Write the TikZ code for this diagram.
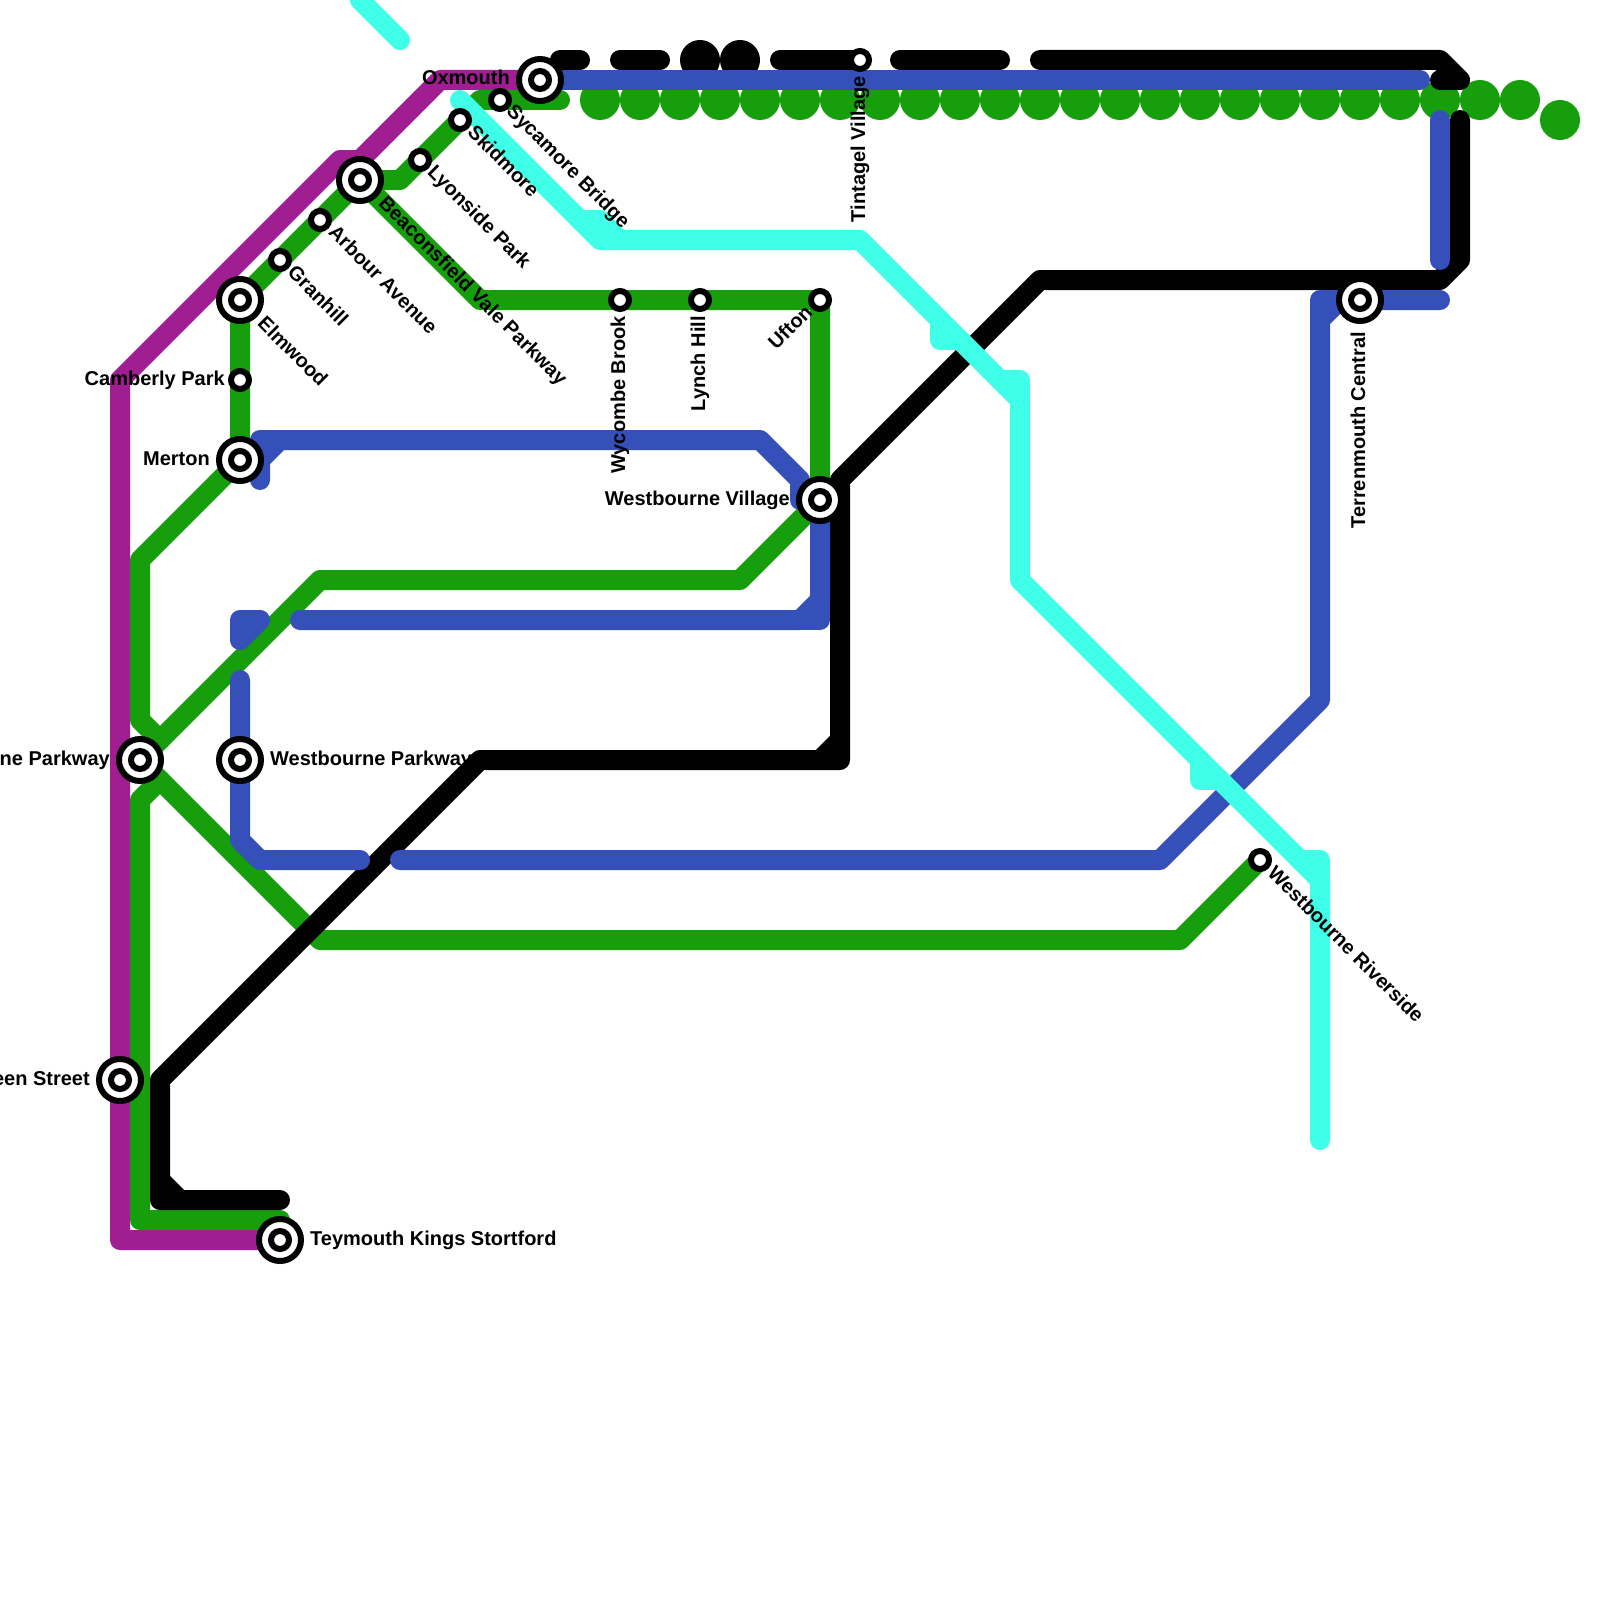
\documentclass[tikz,border=0pt]{standalone}
\usepackage{fontspec}
\setmainfont{Liberation Sans}
\usetikzlibrary{positioning}
\pgfdeclarelayer{lines}
\pgfsetlayers{lines,main}
\definecolor{routepurple}{RGB}{161,30,146}
\definecolor{routegreen}{RGB}{23,158,12}
\definecolor{routeblue}{RGB}{53,80,184}
\definecolor{routecyan}{RGB}{64,255,232}
\tikzset{
  route/.style={line width=20pt,line cap=round,line join=round},
  halt/.style={circle,draw=black,fill=white,line width=6pt,minimum size=18pt,inner sep=0pt},
  interchange/.style={circle,draw=black,fill=white,line width=6pt,minimum size=42pt,inner sep=0pt,
    path picture={\draw[line width=6pt] (path picture bounding box.center) circle (9pt);}},
  lbl/.style={font=\bfseries\fontsize{20}{20}\selectfont,inner sep=0pt,text height=14pt,text depth=4pt},
  lbldown/.style={lbl,rotate=-45,anchor=west},
  lblup/.style={lbl,rotate=90,anchor=east},
}
\begin{document}
\begin{tikzpicture}[x=1pt,y=-1pt]
  \useasboundingbox (0,0) rectangle (1600,1600);
  % stations
  \node[interchange] (oxmouth) at (540,80) {};
  \node[halt] (sycamore) at (500,100) {};
  \node[halt] (skidmore) at (460,120) {};
  \node[halt] (lyonside) at (420,160) {};
  \node[interchange] (beaconsfield) at (360,180) {};
  \node[halt] (arbour) at (320,220) {};
  \node[halt] (granhill) at (280,260) {};
  \node[interchange] (elmwood) at (240,300) {};
  \node[halt] (camberly) at (240,380) {};
  \node[interchange] (merton) at (240,460) {};
  \node[halt] (wycombe) at (620,300) {};
  \node[halt] (lynch) at (700,300) {};
  \node[halt] (ufton) at (820,300) {};
  \node[interchange] (wvillage) at (820,500) {};
  \node[halt] (tintagel) at (860,60) {};
  \node[interchange] (terrenmouth) at (1360,300) {};
  \node[halt] (wriverside) at (1260,860) {};
  \node[interchange] (wparkway) at (240,760) {};
  \node[interchange] (neparkway) at (140,760) {};
  \node[interchange] (eenstreet) at (120,1080) {};
  \node[interchange] (teymouth) at (280,1240) {};
  % labels
  \node[lbl,left=6pt of oxmouth] (oxmouthtxt) {Oxmouth};
  \node[lbl,left=3pt of camberly] (camberlytxt) {Camberly Park};
  \node[lbl,left=6pt of merton] (mertontxt) {Merton};
  \node[lbl,left=6pt of wvillage] (wvillagetxt) {Westbourne Village};
  \node[lbl,right=6pt of wparkway] (wparkwaytxt) {Westbourne Parkway};
  \node[lbl,left=6pt of neparkway] (neparkwaytxt) {ne Parkway};
  \node[lbl,left=6pt of eenstreet] (eenstreettxt) {een Street};
  \node[lbl,right=6pt of teymouth] (teymouthtxt) {Teymouth Kings Stortford};
  \node[lbldown] (sycamoretxt) at (509,109) {Sycamore Bridge};
  \node[lbldown] (skidmoretxt) at (470,130) {Skidmore};
  \node[lbldown] (lyonsidetxt) at (430,170) {Lyonside Park};
  \node[lbldown] (beaconsfieldtxt) at (381,201) {Beaconsfield Vale Parkway};
  \node[lbldown] (arbourtxt) at (331,230) {Arbour Avenue};
  \node[lbldown] (granhilltxt) at (290,270) {Granhill};
  \node[lbldown] (elmwoodtxt) at (260,321) {Elmwood};
  \node[lbldown] (wriversidetxt) at (1270,871) {Westbourne Riverside};
  \node[lblup] (tintageltxt) at (860,76) {Tintagel Village};
  \node[lblup] (wycombetxt) at (620,316) {Wycombe Brook};
  \node[lblup] (lynchtxt) at (700,316) {Lynch Hill};
  \node[lblup] (terrenmouthtxt) at (1360,332) {Terrenmouth Central};
  \node[lbl,rotate=45,anchor=east] (uftontxt) at (810,310) {Ufton};
  % free line ends
  \coordinate (blueend) at (1420,80);
  \coordinate (bluesidetop) at (1440,120);
  \coordinate (bluesidebot) at (1440,260);
  \coordinate (bluetail) at (1440,300);
  \coordinate (bluelonga) at (400,860);
  \coordinate (bluelongb) at (360,860);
  \coordinate (blueparktop) at (240,680);
  \coordinate (bluemid) at (300,620);
  \coordinate (bluemerton) at (260,480);
  \coordinate (blackend) at (1040,60);
  \coordinate (blacksidetop) at (1460,120);
  \coordinate (blackfoot) at (280,1200);
  \coordinate (cyantop) at (460,100);
  \coordinate (cyanfoot) at (1320,1140);
  \coordinate (greenfoot) at (280,1220);
  \coordinate (greenspur) at (560,100);
  \begin{pgfonlayer}{lines}
    \draw[route,routepurple] (teymouth.center) -- (120,1240) -- (eenstreet.center) -- (120,380) -- (340,160)
      -- (360,160) -- (440,80) -- (oxmouth.center);
    % green
    \foreach \dotx in {600,640,...,1520}
      \fill[routegreen] (\dotx,100) circle (20pt);
    \fill[routegreen] (1560,120) circle (20pt);
    \draw[route,routegreen] (greenfoot) -- (140,1220) -- (140,800) -- (160,780);
    \draw[route,routegreen] (160,740) -- (140,720) -- (140,560) -- (merton.center) -- (camberly.center)
      -- (elmwood.center) -- (granhill.center) -- (arbour.center) -- (beaconsfield.center) -- (400,180)
      -- (lyonside.center) -- (skidmore.center) -- (480,100) -- (sycamore.center) -- (greenspur);
    \draw[route,routegreen] (beaconsfield.center) -- (480,300) -- (wycombe.center) -- (lynch.center)
      -- (ufton.center) -- (wvillage.center) -- (740,580) -- (320,580) -- (neparkway.center)
      -- (320,940) -- (1180,940) -- (wriverside.center);
    % black
    \draw[route] (560,60) -- (580,60);
    \draw[route] (620,60) -- (660,60);
    \fill (700,60) circle (20pt);
    \fill (740,60) circle (20pt);
    \draw[route] (780,60) -- (tintagel.center);
    \draw[route] (900,60) -- (1000,60);
    \draw[route] (blackend) -- (1440,60) -- (1460,80) -- (1440,80);
    \draw[route] (blacksidetop) -- (1460,260) -- (1440,280) -- (1040,280) -- (840,480) -- (840,760)
      -- (480,760) -- (160,1080) -- (160,1200) -- (blackfoot);
    \draw[route] (820,760) -- (840,740);
    \draw[route] (160,1180) -- (180,1200);
    % blue
    \draw[route,routeblue] (oxmouth.center) -- (blueend);
    \draw[route,routeblue] (bluesidetop) -- (bluesidebot);
    \draw[route,routeblue] (bluetail) -- (terrenmouth.center) -- (1320,300) -- (1320,700) -- (1160,860) -- (bluelonga);
    \draw[route,routeblue] (1320,320) -- (1340,300);
    \draw[route,routeblue] (bluelongb) -- (260,860) -- (240,840) -- (wparkway.center) -- (blueparktop);
    \draw[route,routeblue] (260,620) -- (240,620) -- (240,640) -- cycle;
    \draw[route,routeblue] (bluemid) -- (800,620) -- (820,600) -- (wvillage.center);
    \draw[route,routeblue] (820,600) -- (820,620) -- (800,620);
    \draw[route,routeblue] (800,500) -- (800,480) -- (760,440) -- (260,440) -- (bluemerton);
    \draw[route,routeblue] (260,460) -- (280,440);
    % cyan
    \draw[route,routecyan] (360,0) -- (400,40);
    \draw[route,routecyan] (cyantop) -- (600,240) -- (860,240) -- (1020,400) -- (1020,580) -- (1320,880) -- (cyanfoot);
    \draw[route,routecyan] (580,220) -- (600,220) -- (620,240);
    \draw[route,routecyan] (940,320) -- (940,340) -- (960,340);
    \draw[route,routecyan] (1000,380) -- (1020,380) -- (1020,400);
    \draw[route,routecyan] (1200,760) -- (1200,780) -- (1220,780);
    \draw[route,routecyan] (1300,860) -- (1320,860) -- (1320,880);
  \end{pgfonlayer}
\end{tikzpicture}
\end{document}
